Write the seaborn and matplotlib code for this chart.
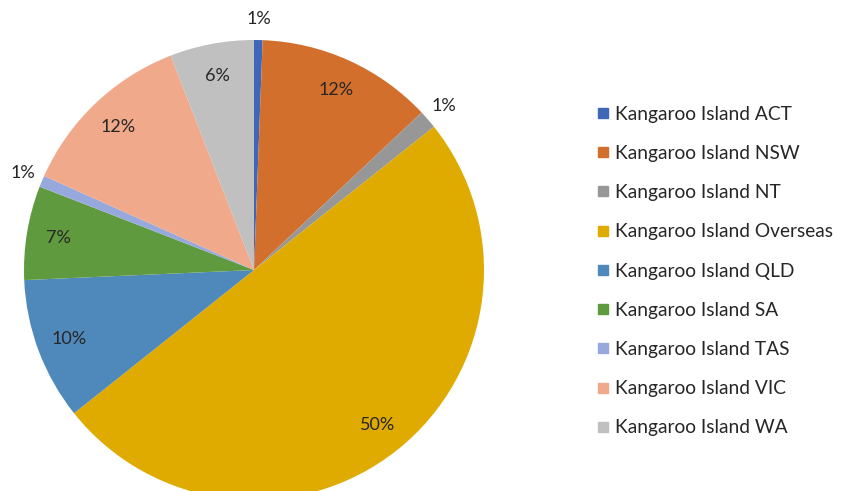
import matplotlib
matplotlib.use("Agg")
import matplotlib.pyplot as plt
import seaborn as sns
import numpy as np
from matplotlib.lines import Line2D

sns.set_theme(style="white")
plt.rcParams['font.family'] = ['Lato', 'DejaVu Sans']

categories = ["Kangaroo Island ACT", "Kangaroo Island NSW", "Kangaroo Island NT",
              "Kangaroo Island Overseas", "Kangaroo Island QLD", "Kangaroo Island SA",
              "Kangaroo Island TAS", "Kangaroo Island VIC", "Kangaroo Island WA"]
values = [0.6, 12.4, 1.3, 50.0, 10.0, 6.6, 0.8, 12.4, 5.9]
colors = ["#3F67B8", "#D36F2D", "#979797", "#E0AB00", "#4F89BB",
          "#609A3F", "#97A8DC", "#F0A98B", "#C0C0C0"]
outside = [True, False, True, False, False, False, True, False, False]

palette = sns.color_palette(colors)

W, H = 841, 491
cx, cy, R = 254, 270, 230
fig = plt.figure(figsize=(W / 100, H / 100), dpi=100)
ax = fig.add_axes([0, 0, 1, 1])
wedges, _ = ax.pie(values, colors=palette, startangle=90, counterclock=False,
                   radius=1, wedgeprops=dict(linewidth=0))
ax.set_xlim(-cx / R, (W - cx) / R)
ax.set_ylim(-(H - cy) / R, cy / R)
ax.set_aspect('equal')
ax.axis('off')

total = sum(values)
for w, v, out in zip(wedges, values, outside):
    ang = np.deg2rad((w.theta1 + w.theta2) / 2)
    r = 1.09 if out else 0.86
    ax.text(r * np.cos(ang), r * np.sin(ang), f"{int(v / total * 100 + 0.5)}%",
            ha='center', va='center', fontsize=13, color='#262626')

handles = [Line2D([], [], marker='s', linestyle='none', markersize=7,
                  markerfacecolor=c, markeredgecolor=c) for c in palette]
fig.legend(handles, categories, loc='upper left', bbox_to_anchor=(586 / W, 1 - 96 / H),
           frameon=False, fontsize=13.8, handletextpad=0.2, labelspacing=1.16,
           handlelength=0.8, borderpad=0, labelcolor='#262626')

fig.savefig("out.png", dpi=100)
